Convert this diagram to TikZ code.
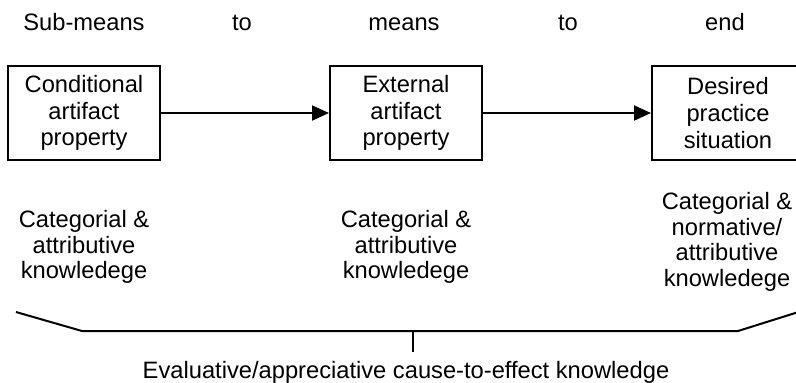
\documentclass[tikz,border=0pt]{standalone}
\usepackage{fontspec}
\setmainfont{Liberation Sans}
\usetikzlibrary{arrows.meta}
\begin{document}
\begin{tikzpicture}[x=0.5pt,y=-0.5pt,
  lbl/.style={font=\fontsize{11.85}{13}\selectfont, inner sep=0pt},
  boxnode/.style={draw, line width=1pt, minimum width=76pt, minimum height=47pt, align=center, inner sep=0pt, font=\fontsize{11.85}{13.3}\selectfont},
  know/.style={align=center, inner sep=0pt, font=\fontsize{11.85}{12.75}\selectfont},
  conn/.style={line width=1pt, -{Triangle[length=8.5pt,width=7.5pt]}},
  brace/.style={line width=1pt}]
\useasboundingbox (0,0) rectangle (796,382);
% top labels
\node[lbl, anchor=base] (t1) at (84,30) {Sub-means};
\node[lbl, anchor=base] (t2) at (242,30) {to};
\node[lbl, anchor=base] (t3) at (404,30) {means};
\node[lbl, anchor=base] (t4) at (568,30) {to};
\node[lbl, anchor=base] (t5) at (725,30) {end};
% boxes
\node[boxnode] (b1) at (84,113) {Conditional\\artifact\\property};
\node[boxnode] (b2) at (406,113) {External\\artifact\\property};
\node[boxnode] (b3) at (728,113) {Desired\\practice\\situation};
\draw[conn] (b1) -- (b2);
\draw[conn] (b2) -- (b3);
% knowledge labels
\node[know] (k1) at (84,247) {Categorial \&\\attributive\\knowledege};
\node[know] (k2) at (406,247) {Categorial \&\\attributive\\knowledege};
\node[know] (k3) at (727,242) {Categorial \&\\normative/\\attributive\\knowledege};
% bracket
\coordinate (bl) at (16,312);
\coordinate (bl2) at (82,331);
\coordinate (br2) at (738,331);
\coordinate (br) at (800,311.5);
\coordinate (tk) at (413,331);
\coordinate (tkb) at (413,352);
\draw[brace] (bl) -- (bl2) -- (br2) -- (br);
\draw[brace] (tk) -- (tkb);
\node[lbl, anchor=base] (ev) at (406,378) {Evaluative/appreciative cause-to-effect knowledge};
\end{tikzpicture}
\end{document}
